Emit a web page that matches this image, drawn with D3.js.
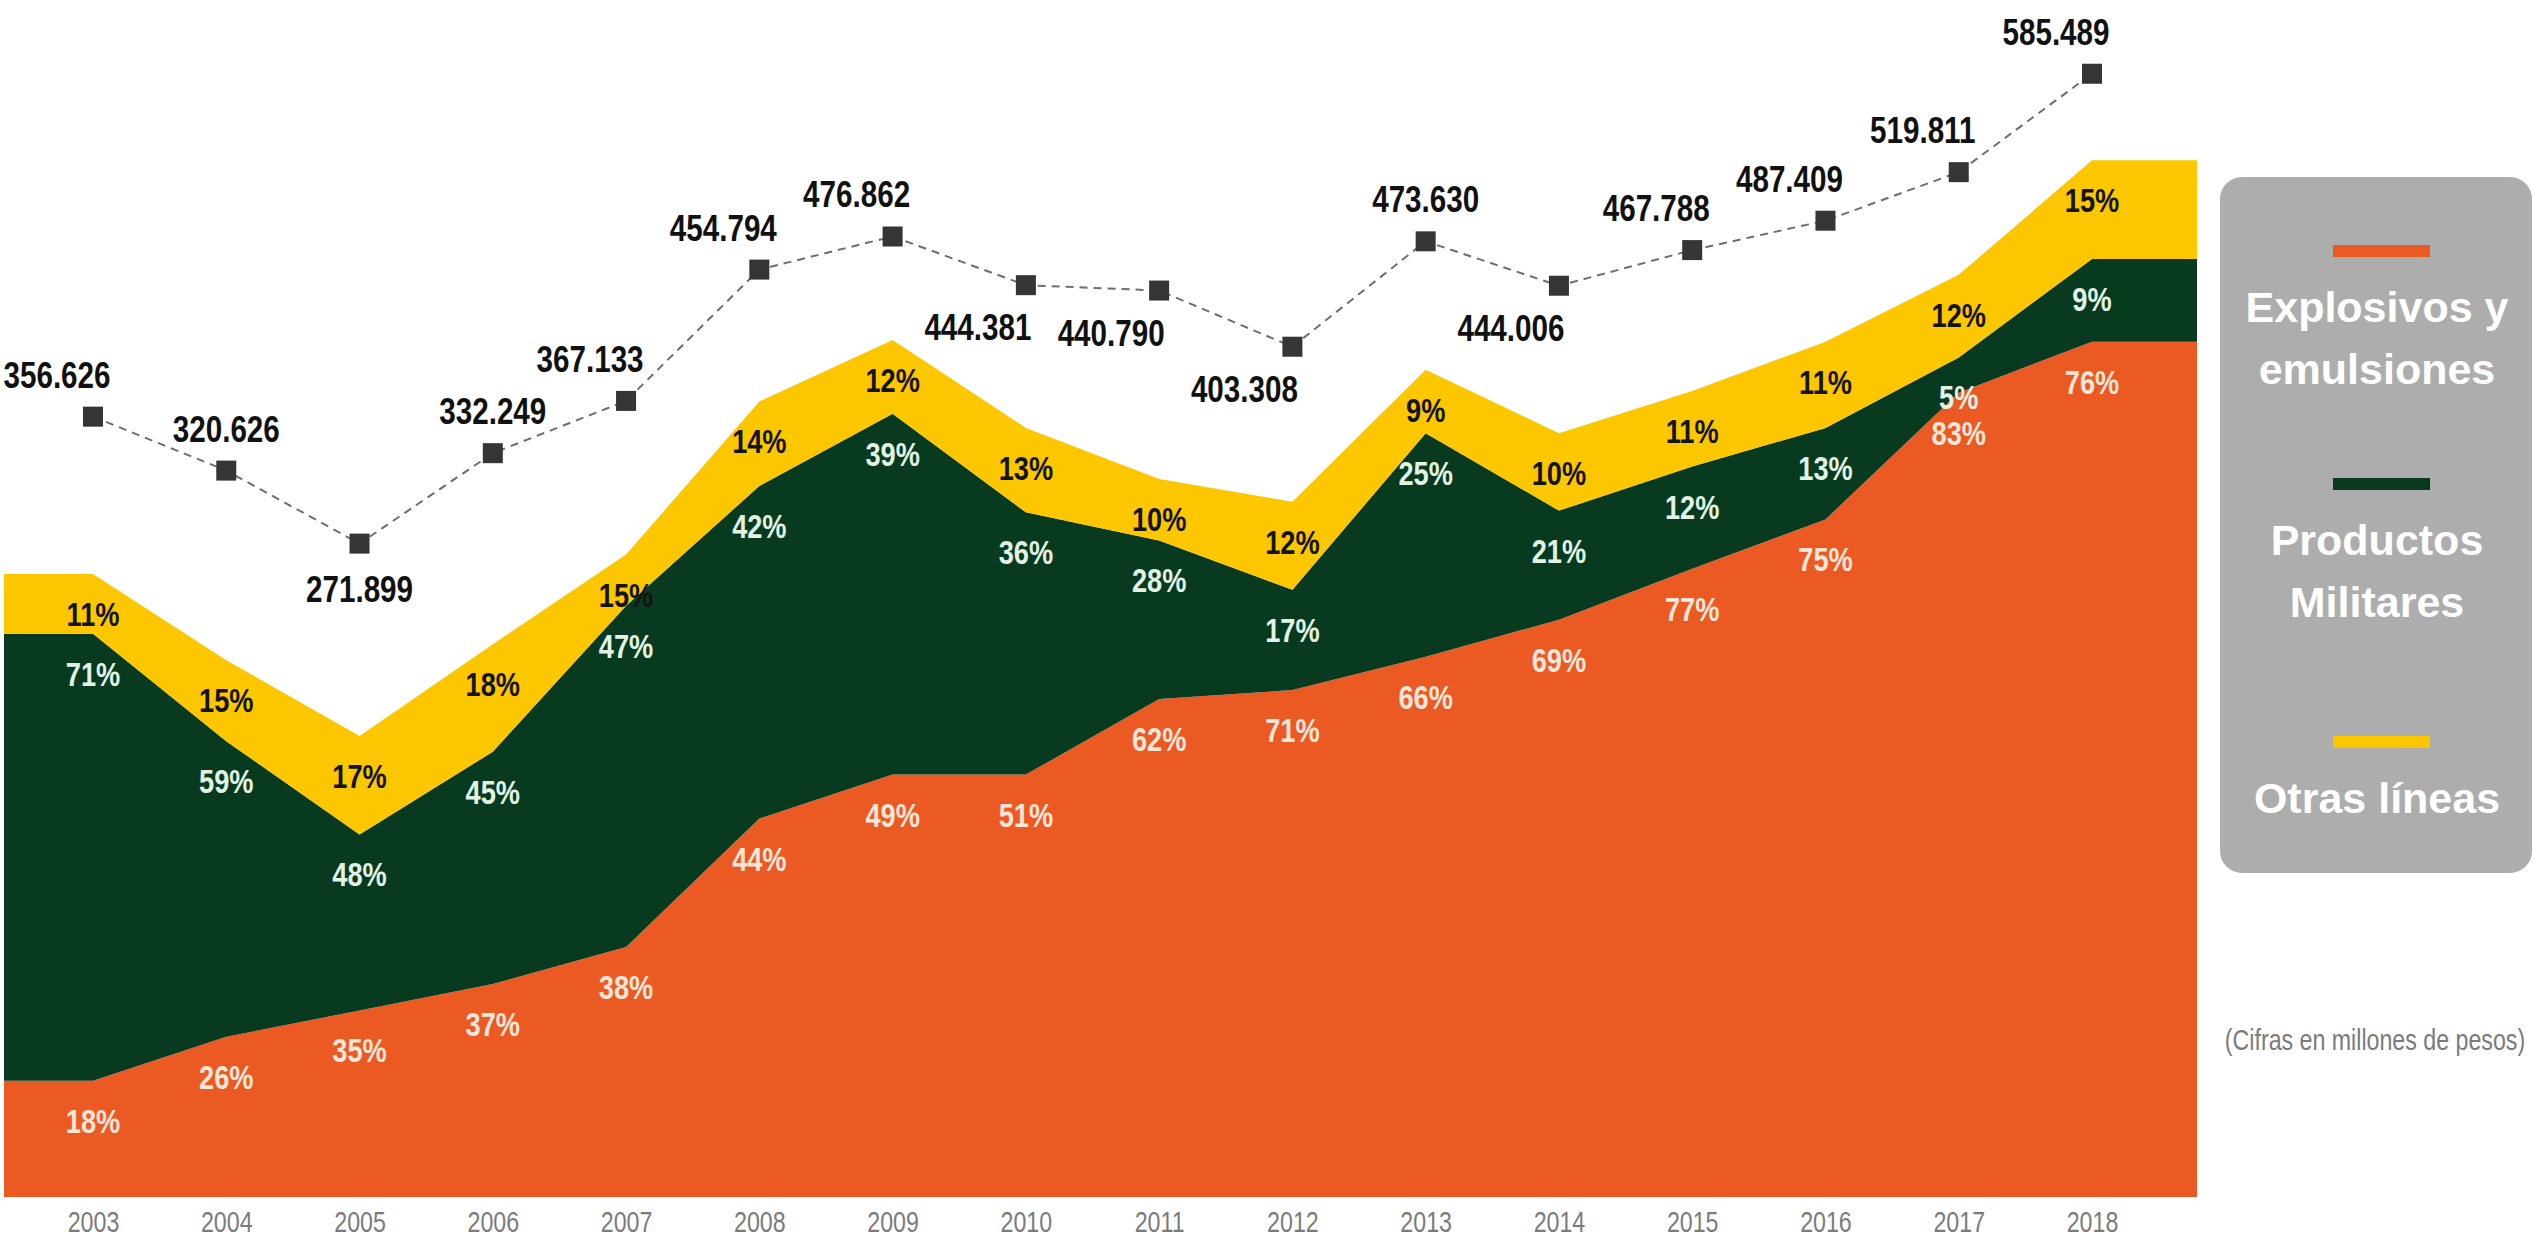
<!DOCTYPE html>
<html>
<head>
<meta charset="utf-8">
<script src="https://cdn.jsdelivr.net/npm/d3@7"></script>
<style>
    body { margin: 0; background: #fff; }
    svg { display: block; }
</style>
</head>
<body>
<div id="chart"></div>
<script>
// ventas por línea de negocio (millones de pesos)
const years = [2003, 2004, 2005, 2006, 2007, 2008, 2009, 2010, 2011, 2012, 2013, 2014, 2015, 2016, 2017, 2018]
const totals = [356626, 320626, 271899, 332249, 367133, 454794, 476862, 444381, 440790, 403308, 473630, 444006, 467788, 487409, 519811, 585489]

// stacked layers
const explosivos = [66000, 91000, 106000, 121000, 142000, 215000, 240000, 240000, 283000, 288000, 307000, 328000, 357000, 385000, 457000, 486000]
const militares = [254000, 168000, 100000, 132000, 194000, 189000, 205000, 149000, 90000, 57000, 127000, 62000, 58000, 52000, 20000, 47000]
const otras = [34000, 46000, 56000, 61000, 29000, 48000, 42000, 48000, 35000, 50000, 36000, 44000, 43000, 49000, 47000, 56000]

// percentage labels printed on each layer
const pctExplosivos = [18, 26, 35, 37, 38, 44, 49, 51, 62, 71, 66, 69, 77, 75, 83, 76]
const pctMilitares = [71, 59, 48, 45, 47, 42, 39, 36, 28, 17, 25, 21, 12, 13, 5, 9]
const pctOtras = [11, 15, 17, 18, 15, 14, 12, 13, 10, 12, 9, 10, 11, 11, 12, 15]

const seriesNames = ["Explosivos y emulsiones", "Productos Militares", "Otras líneas"]
const legendLines = [["Explosivos y", "emulsiones"], ["Productos", "Militares"], ["Otras líneas"]]
const totalLabelSide = ["above-left", "above", "below", "above", "above-left", "above-left", "above-left", "below-left",
    "below-left", "below-left", "above", "below-left", "above-left", "above-left", "above-left", "above-left"]

const width = 2534
const height = 1239
const colors = ["#ec5a24", "#073a1e", "#fdc700"]
const labelColors = ["#fbe6da", "#e2f3e6", "#141414"]
const font = "'Liberation Sans', Arial, sans-serif"
const squeeze = 0.8 // no narrow face installed, so condense by hand

const plotLeft = 4
const plotRight = 2197
const baseY = 1197

const x = d3.scaleLinear().domain([2003, 2018]).range([93, 2092])
const y = d3.scaleLinear().domain([0, 600000]).range([baseY, baseY - 1056])
const yLine = d3.scaleLinear().domain([0, 600000]).range([951, 52])

const esFormat = d3.formatLocale({ decimal: ",", thousands: ".", grouping: [3], currency: ["$", ""] }).format(",d")

const table = years.map((yr, i) => ({
    year: yr,
    explosivos: explosivos[i],
    militares: militares[i],
    otras: otras[i]
}))
const keys = ["explosivos", "militares", "otras"]
const pcts = [pctExplosivos, pctMilitares, pctOtras]
const stacked = d3.stack().keys(keys)(table)

const svg = d3.select("#chart")
    .append("svg")
    .attr("xmlns", "http://www.w3.org/2000/svg")
    .attr("width", width)
    .attr("height", height)
    .style("background", "#fff")

const at = (px, py) => `translate(${px},${py}) scale(${squeeze},1)`

// areas, first/last values carried flat to the plot edges
const area = d3.area()
    .x(d => d.px)
    .y0(d => y(d[0]))
    .y1(d => y(d[1]))

svg.append("g")
    .selectAll("path")
    .data(stacked)
    .enter()
    .append("path")
    .attr("fill", (d, i) => colors[i])
    .attr("d", layer => {
        const pts = layer.map(d => Object.assign([d[0], d[1]], { px: x(d.data.year) }))
        const first = Object.assign([pts[0][0], pts[0][1]], { px: plotLeft })
        const last = Object.assign([pts[pts.length - 1][0], pts[pts.length - 1][1]], { px: plotRight })
        return area([first, ...pts, last])
    })

// percentage labels
stacked.forEach((layer, li) => {
    svg.append("g")
        .style("font-family", font)
        .style("font-weight", "bold")
        .style("font-size", "34px")
        .attr("fill", labelColors[li])
        .attr("text-anchor", "middle")
        .selectAll("text")
        .data(layer)
        .enter()
        .append("text")
        .attr("transform", d => at(x(d.data.year), y(d[1]) + 40))
        .attr("dy", "0.35em")
        .text((d, i) => `${pcts[li][i]}%`)
})

// x axis
const xAxis = svg.append("g")
    .attr("transform", `translate(0,${baseY + 8})`)
    .call(d3.axisBottom(x).tickValues(years).tickFormat(d3.format("d")).tickSize(0).tickPadding(6))
xAxis.select(".domain").remove()
xAxis.selectAll("text")
    .attr("transform", `scale(${squeeze},1)`)
    .style("font-family", font)
    .style("font-size", "29px")
    .attr("fill", "#7b7b7b")

// total sales line
const line = d3.line()
    .x((d, i) => x(years[i]))
    .y(d => yLine(d))

svg.append("path")
    .datum(totals)
    .attr("fill", "none")
    .attr("stroke", "#6e6e6e")
    .attr("stroke-width", 2)
    .attr("stroke-dasharray", "8,6")
    .attr("d", line)

svg.append("g")
    .selectAll("rect")
    .data(totals)
    .enter()
    .append("rect")
    .attr("x", (d, i) => x(years[i]) - 10)
    .attr("y", d => yLine(d) - 10)
    .attr("width", 20)
    .attr("height", 20)
    .attr("fill", "#353535")

const offsets = {
    "above": [0, -42],
    "above-left": [-36, -42],
    "below": [0, 45],
    "below-left": [-48, 42]
}

svg.append("g")
    .style("font-family", font)
    .style("font-weight", "bold")
    .style("font-size", "37px")
    .attr("fill", "#111")
    .attr("text-anchor", "middle")
    .selectAll("text")
    .data(totals)
    .enter()
    .append("text")
    .attr("transform", (d, i) => at(x(years[i]) + offsets[totalLabelSide[i]][0], yLine(d) + offsets[totalLabelSide[i]][1]))
    .attr("dy", "0.35em")
    .text(d => esFormat(d))

// legend box
const legend = svg.append("g")
legend.append("rect")
    .attr("x", 2220)
    .attr("y", 177)
    .attr("width", 312)
    .attr("height", 696)
    .attr("rx", 22)
    .attr("fill", "#adadad")

const legendTop = [251, 484, 742]
seriesNames.forEach((name, i) => {
    legend.append("rect")
        .attr("x", 2333)
        .attr("y", legendTop[i] - 6)
        .attr("width", 97)
        .attr("height", 12)
        .attr("fill", colors[i])
    legendLines[i].forEach((ln, j) => {
        legend.append("text")
            .attr("x", 2377)
            .attr("y", legendTop[i] + 56 + j * 62)
            .attr("dy", "0.35em")
            .attr("text-anchor", "middle")
            .style("font-family", font)
            .style("font-weight", "bold")
            .style("font-size", "43px")
            .attr("fill", "#fff")
            .text(ln)
    })
})

svg.append("text")
    .attr("transform", at(2375, 1040))
    .attr("dy", "0.35em")
    .attr("text-anchor", "middle")
    .style("font-family", font)
    .style("font-size", "29px")
    .attr("fill", "#7b7b7b")
    .text("(Cifras en millones de pesos)")
</script>
</body>
</html>
